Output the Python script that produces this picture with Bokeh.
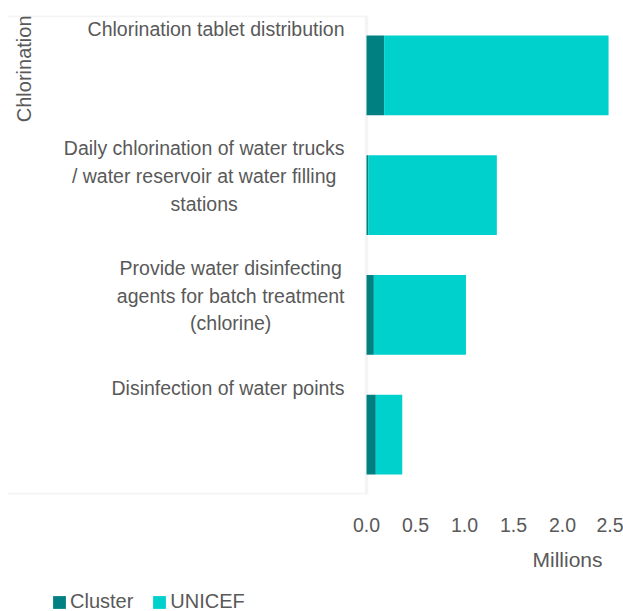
import math
from bokeh.plotting import figure
from bokeh.layouts import column
from bokeh.models import (ColumnDataSource, FactorRange, Range1d, FixedTicker,
                          NumeralTickFormatter, BoxAnnotation, Label, Legend,
                          LegendItem, Text, Title)
from bokeh.transform import dodge
from bokeh.core.properties import value
from bokeh.embed import file_html
from bokeh.resources import INLINE

# ---------------- data ----------------
group_label = "Chlorination"
categories = [
    "Chlorination tablet distribution",
    "Daily chlorination of water trucks\n/ water reservoir at water filling\nstations",
    "Provide water disinfecting\nagents for batch treatment\n(chlorine)",
    "Disinfection of water points",
]
series = ["Cluster", "UNICEF"]
cluster = [0.18, 0.02, 0.075, 0.095]
unicef = [2.29, 1.31, 0.94, 0.27]
x_ticks = [0.0, 0.5, 1.0, 1.5, 2.0, 2.5]
x_title = "Millions"

# ---------------- style ----------------
colors = ["#008080", "#00D1CC"]
TEXT = "#595959"
GRID = "#D9D9D9"
FONT = "Liberation Sans"
FS = "19.5px"

W = 623
H_MAIN, H_LEG = 588, 23
FRAME_LEFT, FRAME_TOP, FRAME_BOTTOM = 8, 15, 494
ZERO_PX = 366
PX_PER_UNIT = 98.0

source = ColumnDataSource(dict(category=categories, Cluster=cluster, UNICEF=unicef))

p = figure(width=W, height=H_MAIN, output_backend="svg", toolbar_location=None,
           y_range=FactorRange(factors=list(reversed(categories)),
                               range_padding=0, factor_padding=0),
           x_range=Range1d(-(ZERO_PX - FRAME_LEFT) / PX_PER_UNIT,
                           (W - ZERO_PX) / PX_PER_UNIT),
           y_axis_location=None,
           min_border_left=FRAME_LEFT, min_border_right=0,
           min_border_top=FRAME_TOP, min_border_bottom=H_MAIN - FRAME_BOTTOM)
p.outline_line_color = None
p.xgrid.visible = False
p.ygrid.visible = False
p.background_fill_color = "white"
p.border_fill_color = "white"

renderers = p.hbar_stack(series, y="category", height=0.667, color=colors,
                         line_color=None, source=source)

# category area frame (top, bottom and right edges; left edge lies outside the frame)
p.add_layout(BoxAnnotation(left=p.x_range.start - 1, right=0,
                           fill_color=None, fill_alpha=0,
                           line_color=GRID, line_width=3.4, level="underlay"))

# category labels
akw = dict(text_align="right")
if "anchor" in Text.properties():
    akw = dict(anchor=value("top_right"), text_align="center")
p.text(x=0, y=dodge("category", 0.5, range=p.y_range), text="category",
       source=source, x_offset=-22, y_offset=2, text_baseline="top",
       text_font=value(FONT), text_font_size=FS, text_color=TEXT,
       text_line_height=1.26, **akw)

# group label
p.add_layout(Label(x=p.x_range.start, y=len(categories), x_offset=4,
                   text=group_label, angle=math.pi / 2,
                   text_align="right", text_baseline="top",
                   text_font=FONT, text_font_size="20px", text_color=TEXT))

# x axis
ax = p.xaxis[0]
ax.ticker = FixedTicker(ticks=x_ticks)
ax.formatter = NumeralTickFormatter(format="0.0")
ax.axis_line_color = None
ax.major_tick_line_color = None
ax.minor_tick_line_color = None
ax.major_tick_out = 0
ax.major_tick_in = 0
ax.major_label_standoff = 23
ax.major_label_text_font = FONT
ax.major_label_text_font_size = FS
ax.major_label_text_color = TEXT

p.add_layout(Title(text=x_title, align="right", offset=21, standoff=23,
                   text_font=FONT, text_font_size="21px",
                   text_font_style="normal", text_color=TEXT), "below")

# legend strip
lf = figure(width=W, height=H_LEG, output_backend="svg", toolbar_location=None,
            x_range=Range1d(0, 1), y_range=Range1d(0, 1),
            x_axis_location=None, y_axis_location=None, min_border=0)
lf.outline_line_color = None
lf.xgrid.visible = False
lf.ygrid.visible = False
# zero-size swatch glyphs, used only to give the legend its colours
leg_renderers = [lf.hbar(y=0, left=0, right=0, height=0, fill_color=c, line_color=None)
                 for c in colors]
legend = Legend(items=[LegendItem(label=s, renderers=[r])
                       for s, r in zip(series, leg_renderers)],
                location=(43, -2), orientation="horizontal",
                padding=0, margin=0, spacing=18, label_standoff=3,
                glyph_width=16, glyph_height=16,
                label_text_font=FONT, label_text_font_size="20px",
                label_text_color=TEXT, border_line_color=None,
                background_fill_alpha=0)
lf.add_layout(legend, "center")

layout = column(p, lf, spacing=0)
open("out.html", "w").write(file_html(layout, INLINE))
